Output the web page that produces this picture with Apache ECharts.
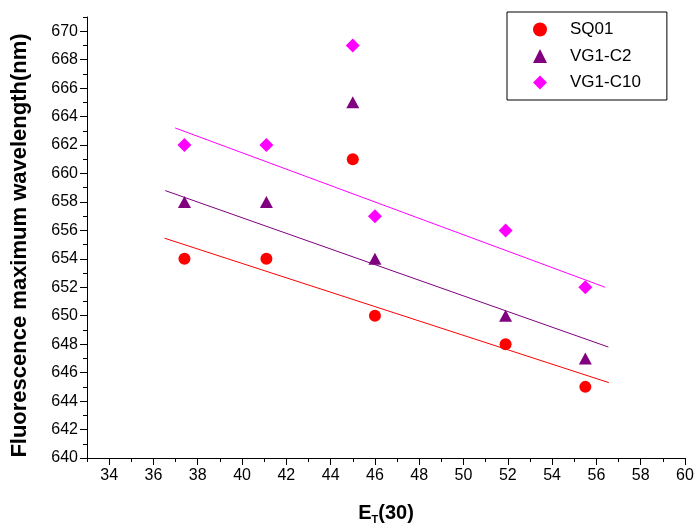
<!DOCTYPE html>
<html>
<head>
<meta charset="utf-8">
<script src="https://cdn.jsdelivr.net/npm/echarts@6/dist/echarts.min.js"></script>
<style>
  html, body { margin: 0; padding: 0; background: #fff; }
  #main { width: 694px; height: 525px; }
</style>
</head>
<body>
<div id="main"></div>
<script>
// E_T(30) values of the solvents
const etValues = [37.4, 41.1, 45.0, 46.0, 51.9, 55.5];

const sq01 = [654, 654, 661, 650, 648, 645];
const vg1c2 = [658, 658, 665, 654, 650, 647];
const vg1c10 = [662, 662, 669, 657, 656, 652];

// fitted lines, [x, y] end points
const sq01Fit = [[36.5, 655.45], [56.56, 645.3]];
const vg1c2Fit = [[36.53, 658.8], [56.54, 647.8]];
const vg1c10Fit = [[36.98, 663.2], [56.4, 652.0]];

const xMajor = [34, 36, 38, 40, 42, 44, 46, 48, 50, 52, 54, 56, 58, 60];
const xMinor = [33, 35, 37, 39, 41, 43, 45, 47, 49, 51, 53, 55, 57, 59];
const yMajor = [640, 642, 644, 646, 648, 650, 652, 654, 656, 658, 660, 662, 664, 666, 668, 670];
const yMinor = [641, 643, 645, 647, 649, 651, 653, 655, 657, 659, 661, 663, 665, 667, 669, 671];

const font = 'Arial, "Liberation Sans", sans-serif';

function pairs(ys) {
  return etValues.map((x, i) => [x, ys[i]]);
}

// second axis on the same side, only for the short minor ticks
function minorAxis(values, min, max, len, position) {
  return {
    type: 'value',
    position: position,
    min: min,
    max: max,
    axisLine: { show: false },
    axisTick: { show: true, customValues: values, length: len, lineStyle: { color: '#000' } },
    axisLabel: { show: false },
    splitLine: { show: false }
  };
}

const chart = echarts.init(document.getElementById('main'));

const option = {
  backgroundColor: '#fff',
  animation: false,
  grid: { left: 87, right: 9, top: 17, bottom: 67, outerBoundsMode: 'none', containLabel: false },
  legend: {
    data: ['SQ01', 'VG1-C2', 'VG1-C10'],
    orient: 'vertical',
    left: 507,
    top: 12,
    padding: [9, 26, 9, 26],
    itemWidth: 14,
    itemHeight: 14,
    itemGap: 9.5,
    borderColor: '#000',
    borderWidth: 1,
    textStyle: { fontFamily: font, fontSize: 17, color: '#000', lineHeight: 16, padding: [0, 0, 0, 18] }
  },
  xAxis: [
    {
      type: 'value',
      position: 'bottom',
      min: 33,
      max: 60,
      name: '{b|E}{s|T}{b|(30)}',
      nameLocation: 'middle',
      nameGap: 43,
      nameTextStyle: {
        rich: {
          b: { fontFamily: font, fontSize: 20, fontWeight: 'bold', color: '#000', lineHeight: 24 },
          s: { fontFamily: font, fontSize: 11, fontWeight: 'bold', color: '#000', lineHeight: 10, verticalAlign: 'bottom' }
        }
      },
      axisLine: { show: true, onZero: false, lineStyle: { color: '#000', width: 1 } },
      axisTick: { show: true, customValues: xMajor, length: 7, lineStyle: { color: '#000' } },
      axisLabel: { customValues: xMajor, fontFamily: font, fontSize: 16, color: '#000', margin: 10 },
      splitLine: { show: false }
    },
    minorAxis(xMinor, 33, 60, 4, 'bottom')
  ],
  yAxis: [
    {
      type: 'value',
      position: 'left',
      min: 640,
      max: 671,
      name: 'Fluorescence maximum wavelength(nm)',
      nameLocation: 'middle',
      nameGap: 56,
      nameTextStyle: { fontFamily: font, fontSize: 22, fontWeight: 'bold', color: '#000', padding: [0, 16, 0, 0] },
      axisLine: { show: true, onZero: false, lineStyle: { color: '#000', width: 1 } },
      axisTick: { show: true, customValues: yMajor, length: 7, lineStyle: { color: '#000' } },
      axisLabel: { customValues: yMajor, fontFamily: font, fontSize: 16, color: '#000', margin: 9 },
      splitLine: { show: false }
    },
    minorAxis(yMinor, 640, 671, 4, 'left')
  ],
  series: [
    { name: 'SQ01 fit', type: 'line', data: sq01Fit, symbol: 'none', silent: true,
      lineStyle: { color: '#ff0000', width: 1 }, z: 1 },
    { name: 'VG1-C2 fit', type: 'line', data: vg1c2Fit, symbol: 'none', silent: true,
      lineStyle: { color: '#800080', width: 1 }, z: 1 },
    { name: 'VG1-C10 fit', type: 'line', data: vg1c10Fit, symbol: 'none', silent: true,
      lineStyle: { color: '#ff00ff', width: 1 }, z: 1 },
    { name: 'SQ01', type: 'scatter', data: pairs(sq01), symbol: 'circle', symbolSize: 12,
      itemStyle: { color: '#ff0000', opacity: 1 }, z: 3 },
    { name: 'VG1-C2', type: 'scatter', data: pairs(vg1c2), symbol: 'triangle', symbolSize: [13, 12],
      itemStyle: { color: '#800080', opacity: 1 }, z: 3 },
    { name: 'VG1-C10', type: 'scatter', data: pairs(vg1c10), symbol: 'diamond', symbolSize: 14,
      itemStyle: { color: '#ff00ff', opacity: 1 }, z: 3 }
  ]
};

chart.setOption(option);
</script>
</body>
</html>
